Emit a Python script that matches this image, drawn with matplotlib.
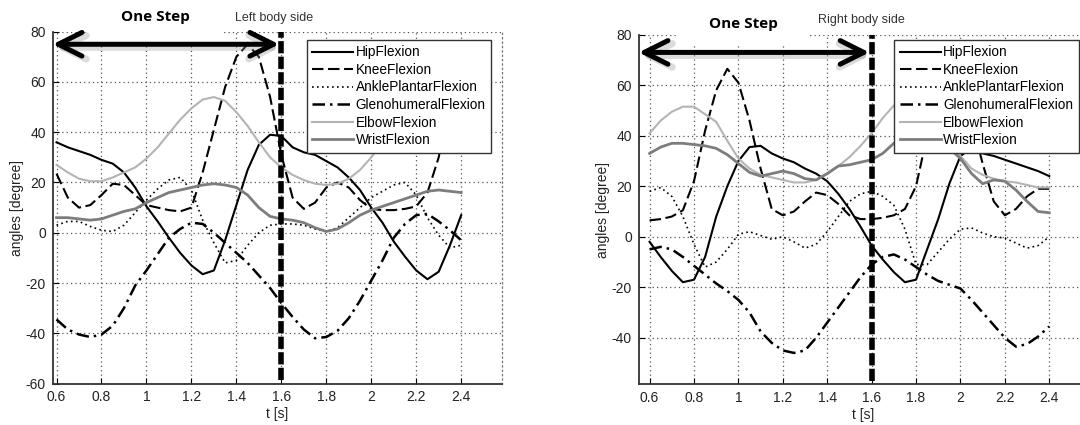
import matplotlib.pyplot as plt
from matplotlib.patches import Rectangle

plt.rcParams['font.family'] = ['Liberation Sans', 'DejaVu Sans']
plt.rcParams['axes.unicode_minus'] = False

# tiempo [s]
t = [0.60, 0.65, 0.70, 0.75, 0.80, 0.85, 0.90, 0.95, 1.00, 1.05, 1.10, 1.15, 1.20,
     1.25, 1.30, 1.35, 1.40, 1.45, 1.50, 1.55, 1.60, 1.65, 1.70, 1.75, 1.80, 1.85,
     1.90, 1.95, 2.00, 2.05, 2.10, 2.15, 2.20, 2.25, 2.30, 2.35, 2.40]

# lado izquierdo
hip_L = [36, 34, 32.5, 31, 29, 27.5, 24, 18, 10.5, 4.5, -2, -8, -13, -16.5, -15, -3, 11,
         25, 35, 39, 38.5, 34, 32, 31, 28.5, 26, 22, 17, 10, 4, -3.5, -9.5, -15, -18.5,
         -15.5, -5, 7]
knee_L = [23.5, 14, 10, 11, 15, 19.5, 19, 15, 11, 10, 9, 8.5, 10, 24, 41, 58, 70, 75, 70,
          54, 31, 14, 9.5, 12, 18, 20, 18, 13, 9.5, 9, 9, 9.5, 10.5, 16, 30, 55, 72]
ankle_L = [3, 4.5, 4.5, 2.5, 1, 0.5, 3, 8, 13, 17.5, 21, 22, 17, 5, -4, -12, -11, -5, 0,
           3, 3.5, 3.5, 3, 1.5, 0.5, 2, 6, 10, 14, 16.5, 19, 20, 15, 6, -1, -6, -5]
gleno_L = [-34.5, -38.5, -40.5, -41.5, -40.5, -37, -30, -21, -15, -8.5, -2, 1.5, 4, 3.5,
           0, -4, -8, -12, -17, -22, -28, -33.5, -38.5, -42, -41.5, -39, -34, -27, -19,
           -11, -2, 3.5, 7, 7.5, 4.5, 1, -3]
elbow_L = [27, 24, 21.5, 20.5, 20.5, 22, 24, 26, 29.5, 34, 39.5, 45, 49.5, 53, 54, 52.5,
           48, 42.5, 36, 30, 26, 23, 21, 19.5, 19, 19.5, 21.5, 25, 30, 36, 43, 48, 52, 53,
           51, 47, 42]
wrist_L = [6, 6, 5.5, 5, 5.5, 7, 8.5, 9.5, 12, 14, 16, 17, 18, 19, 19.5, 19, 18, 15, 10,
           6.5, 5.5, 5, 4, 2, 0.5, 1.5, 4, 7, 9, 10.5, 12, 13.5, 15, 16.5, 17, 16.5, 16]

# lado derecho
hip_R = [-2, -8, -13.5, -18, -17, -8, 8, 20, 30, 35.5, 36, 33, 31, 29.5, 27, 25, 22, 17,
         11, 4, -3.5, -9, -14, -18, -17, -5, 7, 21, 32, 35, 33, 32, 30.5, 29, 27.5, 26, 24]
knee_R = [6.5, 7, 8, 10.5, 22, 42, 58, 66.5, 61, 46, 27, 11, 8.5, 10, 14, 17.5, 16.5, 13,
          8.5, 7, 7, 7.5, 8.5, 11, 20, 40, 58, 66, 62, 46, 29, 14, 8.5, 11, 16, 19, 19]
ankle_R = [18, 19.5, 16, 8, -3, -12, -10, -5, 1, 2, 0.5, -1, 0, -2, -4.5, -3, 2, 8, 14,
           17, 18, 16, 12.5, 3, -11, -11, -6, -1, 3, 3.5, 1.5, 0, -0.5, -2.5, -4.5, -3.5, 0]
gleno_R = [-5, -4, -5, -8, -11.5, -15, -18.5, -21.5, -25, -30, -37.5, -42, -45, -46, -45,
           -40, -34, -28, -22, -16, -11, -8, -7, -9, -12, -15, -17.5, -19, -20.5, -25,
           -30, -35, -40, -43.5, -42.5, -39.5, -35.5]
elbow_R = [41, 46, 49.5, 51.5, 51.5, 48.5, 45.5, 38, 31, 27, 24.5, 23.5, 22.5, 21.5, 21.5,
           22.5, 25, 28, 31.5, 36, 41, 47, 52, 54, 54, 50, 45, 38, 32, 27, 24.5, 23, 22,
           21.5, 20.5, 19.5, 19.5]
wrist_R = [33, 35.5, 37, 37, 36.5, 36, 35, 32.5, 29, 25.5, 24, 25, 26, 25, 23, 22.5, 25,
           28, 28.5, 29.5, 30.5, 33, 37, 39, 40, 40, 38, 35, 31, 25, 21, 22.5, 22, 18.5,
           14, 10, 9.5]

nombres = ['HipFlexion', 'KneeFlexion', 'AnklePlantarFlexion', 'GlenohumeralFlexion',
           'ElbowFlexion', 'WristFlexion']
xticks = [0.6, 0.8, 1.0, 1.2, 1.4, 1.6, 1.8, 2.0, 2.2, 2.4]
xticklabels = ['0.6', '0.8', '1', '1.2', '1.4', '1.6', '1.8', '2', '2.2', '2.4']

fig = plt.figure(figsize=(10.8, 4.25), dpi=100)
ax1 = fig.add_axes([0.0488, 0.0976, 0.4157, 0.8278])
ax2 = fig.add_axes([0.5914, 0.0953, 0.4157, 0.8230])


def dibujar(ax, datos, xlim, ylim, yticks, flecha_y, hueco, leg_x):
    ax.plot(t, datos[0], color='black', lw=1.5, label=nombres[0])
    ax.plot(t, datos[1], color='black', lw=1.5, dashes=(5.5, 2.2), label=nombres[1])
    ax.plot(t, datos[2], color='black', lw=1.2, dashes=(1, 2), label=nombres[2])
    ax.plot(t, datos[3], color='black', lw=1.8, dashes=(5, 2, 1, 2), label=nombres[3])
    ax.plot(t, datos[4], color='#b4b4b4', lw=1.5, label=nombres[4])
    ax.plot(t, datos[5], color='#7d7d7d', lw=2, label=nombres[5])

    ax.set_xlim(xlim)
    ax.set_ylim(ylim)
    ax.set_xticks(xticks)
    ax.set_xticklabels(xticklabels)
    ax.set_yticks(yticks)
    ax.grid(True, color='#555555', lw=0.9, linestyle=(0, (1, 2.5)))
    ax.tick_params(direction='in', length=4, width=0.8, labelsize=10,
                   labelcolor='#222222', pad=5)
    for s in ['left', 'bottom']:
        ax.spines[s].set_color('#333333')
        ax.spines[s].set_linewidth(1.3)
    ax.spines['top'].set_visible(False)
    ax.spines['right'].set_color('#777777')
    ax.spines['right'].set_linestyle((0, (1, 2.5)))
    ax.spines['right'].set_linewidth(0.9)
    ax.set_xlabel('t [s]', fontsize=10, color='#222222', labelpad=2)
    ax.set_ylabel('angles [degree]', fontsize=10, color='#222222', labelpad=1)

    # hueco blanco detras de la flecha (tapa la rejilla superior)
    ax.add_patch(Rectangle((hueco[0], 76), hueco[1] - hueco[0], 6, facecolor='white',
                           edgecolor='none', zorder=1.8, clip_on=False))

    # linea vertical de paso
    ax.axvline(1.6, ymin=0.01, ymax=1, color='black', lw=4, dashes=(2.2, 0.6), zorder=5)

    # flecha "One Step" con sombra
    ax.annotate('', xy=(1.595, flecha_y - 1.2), xytext=(xlim[0] + 0.01, flecha_y - 1.2),
                arrowprops=dict(arrowstyle='<->,head_length=1.7,head_width=0.85',
                                lw=5, color='#999999', alpha=0.35, shrinkA=0, shrinkB=0,
                                mutation_scale=10),
                annotation_clip=False, zorder=5)
    ax.annotate('', xy=(1.59, flecha_y), xytext=(xlim[0], flecha_y),
                arrowprops=dict(arrowstyle='<->,head_length=1.7,head_width=0.85',
                                lw=3.6, color='black', shrinkA=0, shrinkB=0,
                                mutation_scale=10),
                annotation_clip=False, zorder=6)

    leg = ax.legend(loc='upper left', bbox_to_anchor=(leg_x, 0.906),
                    bbox_transform=fig.transFigure, fontsize=9.8, frameon=True,
                    fancybox=False, framealpha=1, edgecolor='#333333',
                    borderpad=0.4, labelspacing=0.26, handlelength=3.0,
                    handletextpad=0.2, borderaxespad=0)
    leg.get_frame().set_linewidth(1.0)
    leg.set_zorder(10)


dibujar(ax1, [hip_L, knee_L, ankle_L, gleno_L, elbow_L, wrist_L],
        (0.583, 2.58), (-60, 80), [-60, -40, -20, 0, 20, 40, 60, 80], 75, (0.73, 1.33), 0.284)
dibujar(ax2, [hip_R, knee_R, ankle_R, gleno_R, elbow_R, wrist_R],
        (0.551, 2.573), (-58.5, 80), [-40, -20, 0, 20, 40, 60, 80], 73, (0.72, 1.32), 0.828)

fig.text(155 / 1080, 1 - 17 / 425, 'One Step', fontsize=11, fontweight='bold',
         family=['Open Sans', 'DejaVu Sans'], ha='center', va='center')
fig.text(274 / 1080, 1 - 18.5 / 425, 'Left body side', fontsize=9, color='#333333',
         ha='center', va='center')
fig.text(743 / 1080, 1 - 24 / 425, 'One Step', fontsize=11, fontweight='bold',
         family=['Open Sans', 'DejaVu Sans'], ha='center', va='center')
fig.text(861 / 1080, 1 - 19.5 / 425, 'Right body side', fontsize=9, color='#333333',
         ha='center', va='center')

fig.savefig('out.png', dpi=100, facecolor='white')
